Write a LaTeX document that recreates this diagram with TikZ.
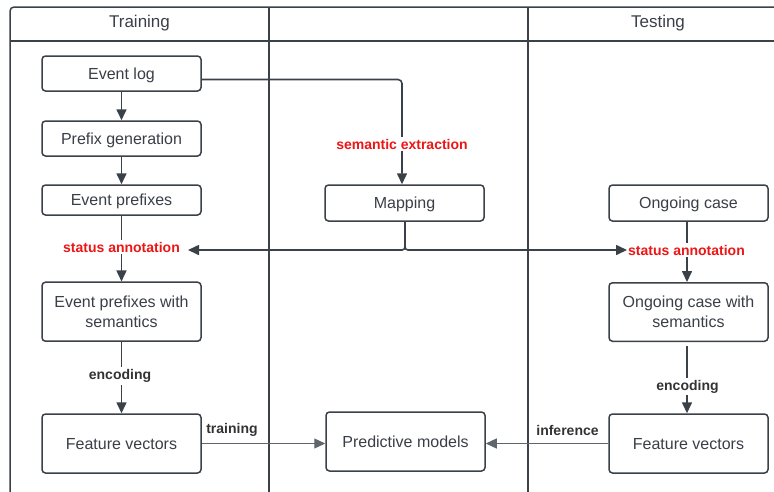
\documentclass[tikz,border=0pt]{standalone}
\usepackage{fontspec}
\setmainfont{Liberation Sans}
\usetikzlibrary{arrows.meta}
\definecolor{lc}{HTML}{3B4149}
\definecolor{tc}{HTML}{3A3F47}
\definecolor{lt}{HTML}{5F656C}
\definecolor{rd}{HTML}{EC1616}
\definecolor{lb}{HTML}{333333}
\tikzset{
  box/.style={draw=lc, line width=1.5pt, rounded corners=3.5pt, fill=white,
    minimum width=159pt, inner sep=0pt, align=center, text=tc,
    font=\fontsize{16}{19.5}\selectfont},
  one/.style={text height=11.5pt, text depth=0pt},
  conn/.style={draw=lc, line width=1.6pt, -{Triangle[length=11pt,width=10pt]}},
  thin conn/.style={draw=lt, line width=1.2pt, -{Triangle[length=11pt,width=10pt]}},
  redlab/.style={text=rd, font=\bfseries\fontsize{14}{16}\selectfont, fill=white, inner sep=2pt},
  darklab/.style={text=lb, font=\bfseries\fontsize{14}{16}\selectfont, fill=white, inner sep=2pt},
  head/.style={text=tc, font=\fontsize{17}{20}\selectfont, text height=12.2pt, text depth=0pt},
  frame/.style={draw=lc, line width=1.5pt}
}
\begin{document}
\begin{tikzpicture}[x=1pt,y=-1pt]
\useasboundingbox (0,0) rectangle (774,491);
\clip (0,0) rectangle (774,491);
% frame
\draw[frame, rounded corners=4pt] (10,520) -- (10,7) -- (800,7);
\draw[frame] (10,41) -- (800,41);
\draw[frame] (269,7) -- (269,520);
\draw[frame] (528,7) -- (528,520);
\node[head] (hTrain) at (139.5,21) {Training};
\node[head] (hTest) at (658,21) {Testing};
% boxes
\node[box, one, minimum height=35pt] (EL) at (121.5,73.5) {Event log};
\node[box, one, minimum height=35pt] (PG) at (121.5,138.5) {Prefix generation};
\node[box, one, minimum height=30pt] (EP) at (121.5,200) {Event prefixes};
\node[box, minimum height=59pt] (EPS) at (121.5,311.7) {Event prefixes with\\semantics};
\node[box, one, minimum height=59pt] (FVL) at (121.5,443.5) {Feature vectors};
\node[box, one, minimum height=36pt] (MAP) at (404.5,203) {Mapping};
\node[box, one, minimum height=59pt] (PM) at (405.5,441.5) {Predictive models};
\node[box, one, minimum height=36pt] (OC) at (688.5,203) {Ongoing case};
\node[box, minimum height=58.5pt] (OCS) at (688.5,312) {Ongoing case with\\semantics};
\node[box, one, minimum height=59pt] (FVR) at (688.5,443.5) {Feature vectors};
% coordinates
\coordinate (tipL) at (188,250);
\coordinate (tipR) at (627,250);
% connectors
\draw[conn] (EL) -- (PG);
\draw[conn] (PG) -- (EP);
\draw[conn] (EP) -- (EPS);
\draw[conn] (EPS) -- (FVL);
\draw[conn, rounded corners=4pt] ([yshift=-6pt]EL.east) -| ([xshift=-2.5pt]MAP.north);
\draw[conn, rounded corners=3pt] ([xshift=0.5pt]MAP.south) |- (tipL);
\draw[conn, rounded corners=3pt] ([xshift=0.5pt]MAP.south) |- (tipR);
\draw[conn] ([xshift=-1.5pt]OC.south) -- ([xshift=-1.5pt]OCS.north);
\draw[conn] ([xshift=-1.5pt,yshift=-4pt]OCS.south) -- ([xshift=-1.5pt]FVR.north);
\draw[thin conn] (FVL.east) -- (PM.west |- FVL.east);
\draw[thin conn] (FVR.west) -- (PM.east |- FVR.east);
% labels
\node[redlab] (lSem) at (402,144) {semantic extraction};
\node[redlab] (lStatL) at (121.5,247) {status annotation};
\node[redlab, inner xsep=0pt] (lStatR) at (686.5,250) {status annotation};
\node[darklab] (lEncL) at (120,376) {encoding};
\node[darklab] (lEncR) at (687.5,386.5) {encoding};
\node[darklab, fill=none] (lTrain) at (232,430) {training};
\node[darklab, fill=none] (lInf) at (567.5,430) {inference};
\end{tikzpicture}
\end{document}
